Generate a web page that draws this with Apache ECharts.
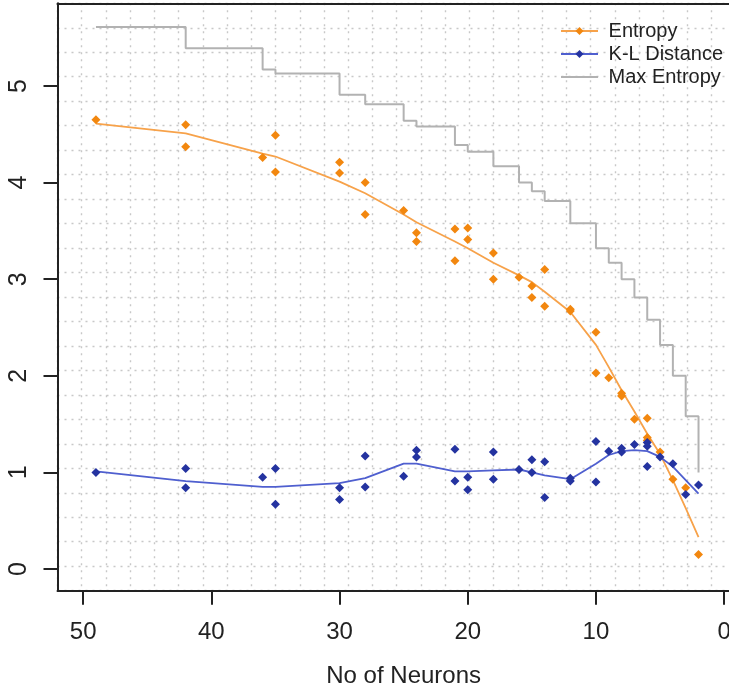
<!DOCTYPE html>
<html>
<head>
<meta charset="utf-8">
<script src="https://cdn.jsdelivr.net/npm/echarts@6/dist/echarts.min.js"></script>
<style>
html,body{margin:0;padding:0;background:#fff;}
#c{width:729px;height:690px;}
</style>
</head>
<body>
<div id="c"></div>
<script>
// ---- data ----
const neurons = [49,42,36,35,30,28,25,24,21,20,18,16,15,14,12,10,9,8,7,6,5,4,3,2];
const maxEntropy = [5.61,5.39,5.17,5.13,4.91,4.81,4.64,4.58,4.39,4.32,4.17,4.00,3.91,3.81,3.58,3.32,3.17,3.00,2.81,2.58,2.32,2.00,1.58,1.00];
const entropyFit = [4.61,4.51,4.30,4.27,4.01,3.89,3.67,3.59,3.39,3.32,3.17,3.04,2.97,2.87,2.66,2.32,2.09,1.85,1.63,1.40,1.19,0.92,0.63,0.33];
const klFit = [1.01,0.91,0.85,0.85,0.89,0.94,1.09,1.09,1.01,1.01,1.02,1.03,1.00,0.97,0.93,1.09,1.18,1.22,1.23,1.22,1.16,1.06,0.92,0.78];

const entropyPtX = [49,42,42,36,35,35,30,30,28,28,25,24,24,21,21,20,20,18,18,16,15,15,14,14,12,12,10,10,9,8,8,7,6,6,6,5,4,3,2];
const entropyPtY = [4.65,4.60,4.37,4.26,4.49,4.11,4.21,4.10,4.00,3.67,3.71,3.48,3.39,3.52,3.19,3.53,3.41,3.27,3.00,3.02,2.93,2.81,3.10,2.72,2.69,2.67,2.45,2.03,1.98,1.82,1.79,1.55,1.56,1.36,1.33,1.21,0.93,0.84,0.15];

const klPtX = [49,42,42,36,35,35,30,30,28,28,25,24,24,21,21,20,20,18,18,16,15,15,14,14,12,12,10,10,9,8,8,7,6,6,6,5,4,3,2];
const klPtY = [1.00,1.04,0.84,0.95,1.04,0.67,0.84,0.72,1.17,0.85,0.96,1.23,1.16,1.24,0.91,0.95,0.82,1.21,0.93,1.03,1.13,1.00,1.11,0.74,0.94,0.91,1.32,0.90,1.22,1.25,1.21,1.29,1.31,1.27,1.06,1.16,1.09,0.77,0.87];

const xTicks = [0,10,20,30,40,50];
const yTicks = [0,1,2,3,4,5];
const seriesNames = ['Entropy','K-L Distance','Max Entropy'];
const xTitle = 'No of Neurons';

// ---- chart ----
const pair = (xs, ys) => xs.map((x,i)=>[x, ys[i]]);
const FONT = '"Liberation Sans", Arial, sans-serif';
const ORANGE_PT = '#f2870f', ORANGE_LN = '#f7a24a';
const BLUE_PT = '#2433a0', BLUE_LN = '#4f5fcf';
const GRAY = '#b2b2b2';
const AXIS = '#222';
const gridDots = {show:true, lineStyle:{color:'#c8c8c8', width:1.4, type:[2,5]}};

const chart = echarts.init(document.getElementById('c'), null, {renderer:'canvas'});
chart.setOption({
  backgroundColor:'#fff',
  animation:false,
  textStyle:{fontFamily:FONT},
  grid:{left:57.5, top:3.3, width:692.3, height:587.4, containLabel:false, outerBoundsMode:'none'},
  legend:{
    orient:'vertical', left:555, top:15,
    itemWidth:37, itemHeight:10, itemGap:1,
    textStyle:{fontSize:20, lineHeight:22, color:'#222', fontFamily:FONT},
    formatter: n => ' ' + n,
    data:[seriesNames[0], seriesNames[1], {name:seriesNames[2], icon:'path://M0,0 L0.01,0 M0,4 L37,4 L37,6 L0,6 Z M0,10 L0.01,10'}]
  },
  xAxis:[
    {type:'value', inverse:true, min:-2, max:52, position:'bottom',
     axisLine:{show:true, onZero:false, lineStyle:{color:AXIS, width:2}},
     axisTick:{show:true, inside:false, length:14, customValues:xTicks, lineStyle:{color:AXIS, width:2}},
     axisLabel:{show:true, customValues:xTicks, fontSize:24, color:'#222', margin:30, fontFamily:FONT},
     splitLine:{show:false},
     name:xTitle, nameLocation:'middle', nameGap:74,
     nameTextStyle:{fontSize:24, color:'#222', fontFamily:FONT}},
    {type:'value', min:0, max:692.3/24.23, interval:1, position:'top',
     axisLine:{show:true, onZero:false, lineStyle:{color:AXIS, width:2}},
     axisTick:{show:false}, axisLabel:{show:false}, splitLine:gridDots}
  ],
  yAxis:[
    {type:'value', min:-0.2246, max:5.856, position:'left',
     axisLine:{show:true, onZero:false, lineStyle:{color:AXIS, width:2}},
     axisTick:{show:true, inside:false, length:14, customValues:yTicks, lineStyle:{color:AXIS, width:2}},
     axisLabel:{show:true, customValues:yTicks, rotate:90, fontSize:25, color:'#222', margin:26, fontFamily:FONT},
     splitLine:{show:false}},
    {type:'value', min:0, max:24, interval:1, position:'right',
     axisLine:{show:false}, axisTick:{show:false}, axisLabel:{show:false}, splitLine:gridDots}
  ],
  series:[
    {name:seriesNames[2], type:'line', step:'end', xAxisIndex:0, yAxisIndex:0,
     data:pair(neurons, maxEntropy), symbol:'none', showSymbol:false,
     lineStyle:{color:GRAY, width:2}, itemStyle:{color:GRAY}, z:2},
    {name:seriesNames[0], type:'line', xAxisIndex:0, yAxisIndex:0,
     data:pair(neurons, entropyFit), symbol:'diamond', showSymbol:false,
     lineStyle:{color:ORANGE_LN, width:1.8}, itemStyle:{color:ORANGE_PT}, z:3},
    {name:seriesNames[1], type:'line', xAxisIndex:0, yAxisIndex:0,
     data:pair(neurons, klFit), symbol:'diamond', showSymbol:false,
     lineStyle:{color:BLUE_LN, width:1.8}, itemStyle:{color:BLUE_PT}, z:3},
    {name:seriesNames[0], type:'scatter', xAxisIndex:0, yAxisIndex:0,
     data:pair(entropyPtX, entropyPtY), symbol:'diamond', symbolSize:9,
     itemStyle:{color:ORANGE_PT, opacity:1}, z:4},
    {name:seriesNames[1], type:'scatter', xAxisIndex:0, yAxisIndex:0,
     data:pair(klPtX, klPtY), symbol:'diamond', symbolSize:9,
     itemStyle:{color:BLUE_PT, opacity:1}, z:4}
  ]
});
</script>
</body>
</html>
